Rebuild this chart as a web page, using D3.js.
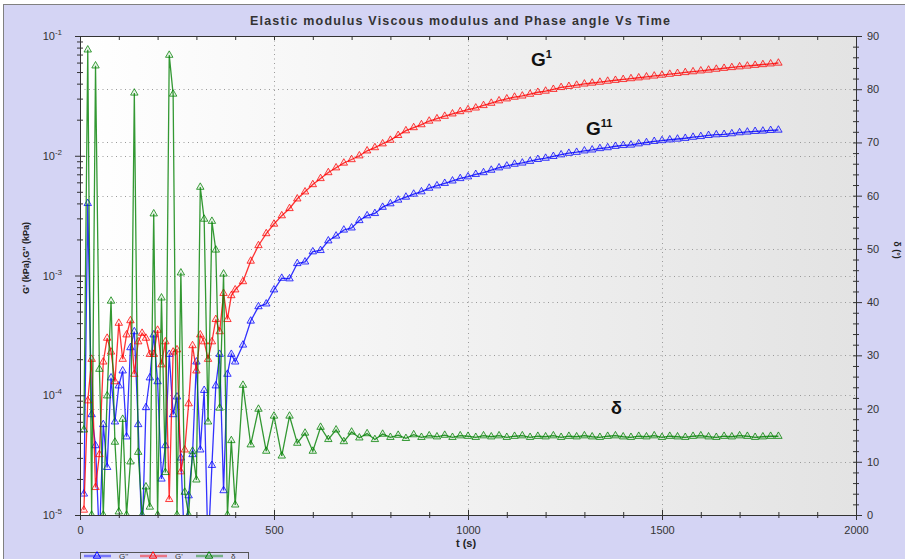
<!DOCTYPE html>
<html>
<head>
<meta charset="utf-8">
<script src="https://cdn.jsdelivr.net/npm/d3@7"></script>
<style>
  body { margin: 0; background: #fff; }
  text { font-family: "Liberation Sans", Arial, sans-serif; }
</style>
</head>
<body>
<svg id="chart" width="905" height="559"></svg>
<script>
// sample times (s)
const time = [10,20,30,40,50,60,70,80,90,100,110,120,130,140,150,160,170,180,190,200,
  210,220,230,240,250,260,270,280,290,300,310,320,330,340,350,360,370,380,390,400,
  420,440,460,480,500,520,540,560,580,600,620,640,660,680,700,720,740,760,780,800,
  820,840,860,880,900,920,940,960,980,1000,1020,1040,1060,1080,1100,1120,1140,1160,1180,1200,
  1220,1240,1260,1280,1300,1320,1340,1360,1380,1400,1420,1440,1460,1480,1500,1520,1540,1560,1580,1600,
  1620,1640,1660,1680,1700,1720,1740,1760,1780,1800];

// G' (kPa) - elastic modulus
const gPrime = [1.1e-5,9.0e-5,2.0e-4,1.7e-5,3.2e-5,1.9e-4,3.0e-4,2.3e-4,1.3e-4,4.0e-4,
  2.0e-4,3.2e-4,4.2e-4,1.5e-4,2.8e-4,3.3e-4,3.0e-4,2.2e-4,2.2e-4,3.5e-4,
  1.8e-4,2.8e-4,1.35e-5,2.3e-4,2.4e-4,2.3e-5,3.5e-5,8.5e-5,2.6e-4,1.6e-4,
  3.2e-4,2.8e-4,2.0e-4,2.8e-4,4.3e-4,3.4e-4,7.1e-4,4.3e-4,6.8e-4,7.6e-4,
  8.9e-4,1.32e-3,1.78e-3,2.24e-3,2.69e-3,3.16e-3,3.63e-3,4.37e-3,5.0e-3,5.75e-3,
  6.46e-3,7.24e-3,7.94e-3,8.7e-3,9.3e-3,1.0e-2,1.10e-2,1.17e-2,1.26e-2,1.35e-2,
  1.48e-2,1.62e-2,1.72e-2,1.82e-2,1.95e-2,2.04e-2,2.14e-2,2.24e-2,2.34e-2,2.43e-2,
  2.51e-2,2.63e-2,2.75e-2,2.88e-2,2.99e-2,3.09e-2,3.16e-2,3.27e-2,3.39e-2,3.47e-2,
  3.59e-2,3.72e-2,3.80e-2,3.89e-2,3.98e-2,4.05e-2,4.12e-2,4.20e-2,4.27e-2,4.34e-2,
  4.41e-2,4.48e-2,4.56e-2,4.64e-2,4.72e-2,4.80e-2,4.88e-2,4.96e-2,5.04e-2,5.12e-2,
  5.20e-2,5.29e-2,5.38e-2,5.46e-2,5.54e-2,5.62e-2,5.70e-2,5.78e-2,5.86e-2,5.95e-2];

// G'' (kPa) - viscous modulus
const gDouble = [1.5e-5,4.0e-3,6.9e-5,3.8e-5,6e-6,5.7e-5,2.5e-5,1.4e-4,6.0e-5,1.2e-4,
  1.6e-4,4.5e-5,2.5e-4,3.4e-4,5.7e-5,6e-6,7.9e-5,1.4e-4,3.2e-4,1.3e-4,
  2.0e-5,3.8e-5,2.2e-4,6.9e-5,9.7e-5,3.0e-5,5e-6,1.45e-5,3.2e-5,1.9e-4,
  3.5e-5,1.1e-4,5e-6,2.6e-5,1.2e-4,2.2e-4,1.6e-5,1.5e-4,2.2e-4,1.9e-4,
  2.63e-4,4.17e-4,5.5e-4,5.8e-4,7.6e-4,9.5e-4,9.4e-4,1.26e-3,1.30e-3,1.58e-3,
  1.62e-3,1.95e-3,2.14e-3,2.40e-3,2.50e-3,2.88e-3,3.16e-3,3.30e-3,3.72e-3,3.98e-3,
  4.27e-3,4.52e-3,4.79e-3,5.01e-3,5.37e-3,5.62e-3,5.89e-3,6.17e-3,6.46e-3,6.68e-3,
  7.0e-3,7.24e-3,7.59e-3,7.94e-3,8.22e-3,8.51e-3,8.71e-3,9.0e-3,9.33e-3,9.55e-3,
  9.89e-3,1.02e-2,1.05e-2,1.07e-2,1.10e-2,1.12e-2,1.15e-2,1.17e-2,1.20e-2,1.22e-2,
  1.23e-2,1.26e-2,1.29e-2,1.32e-2,1.34e-2,1.36e-2,1.38e-2,1.40e-2,1.43e-2,1.45e-2,
  1.48e-2,1.50e-2,1.51e-2,1.53e-2,1.56e-2,1.58e-2,1.60e-2,1.61e-2,1.63e-2,1.64e-2];

// phase angle (deg)
const delta = [16,87.4,0,84.4,27.4,0,22.4,40.2,13.7,0.6,
  18,0,10,79.3,11.8,0,5.3,1.5,56.6,0,
  40.8,8,86.4,79.1,0,45.5,4.3,0,12,6.6,
  61.6,55.6,17.5,55.2,49.8,20.1,45.3,0,14,1.9,
  24.4,13.2,19.9,12.0,18.6,11.1,18.6,13.5,15.4,12.0,
  16.5,14.2,16.0,13.8,15.6,14.5,15.3,14.2,15.2,14.6,
  15.0,14.4,15.1,14.6,14.9,14.7,15.0,14.6,14.9,14.8,
  14.6,14.9,14.7,14.9,14.6,14.8,14.9,14.6,14.8,14.7,
  14.9,14.6,14.8,14.7,14.9,14.7,14.6,14.8,14.9,14.7,
  14.6,14.8,14.7,14.9,14.6,14.8,14.7,14.6,14.8,14.9,
  14.7,14.6,14.8,14.7,14.9,14.8,14.6,14.7,14.8,14.8];

const xTicks = [0, 500, 1000, 1500, 2000];
const leftTicks = [1e-5, 1e-4, 1e-3, 1e-2, 1e-1];
const leftExp = ['-5', '-4', '-3', '-2', '-1'];
const rightTicks = [0, 10, 20, 30, 40, 50, 60, 70, 80, 90];
const legendNames = ["G''", "G'", "\u03b4"];
const colors = ['#0000ff', '#ff0000', '#008000'];

const svg = d3.select('#chart');
const margin = {top: 36, right: 49, bottom: 44, left: 80};
const width = 905 - margin.left - margin.right;
const height = 559 - margin.top - margin.bottom;

const x = d3.scaleLinear().domain([0, 2000]).range([0, width]);
const yL = d3.scaleLog().domain([1e-5, 1e-1]).range([height, 0]);
const yR = d3.scaleLinear().domain([0, 90]).range([height, 0]);

const defs = svg.append('defs');
const grad = defs.append('linearGradient').attr('id', 'bg')
  .attr('x1', '0%').attr('x2', '100%').attr('y1', '0%').attr('y2', '0%');
grad.append('stop').attr('offset', '0%').attr('stop-color', '#ffffff');
grad.append('stop').attr('offset', '100%').attr('stop-color', '#e3e3e3');
defs.append('clipPath').attr('id', 'clip')
  .append('rect').attr('width', width).attr('height', height);

// outer panel
svg.append('rect')
  .attr('x', 3.5).attr('y', 4.5).attr('width', 910).attr('height', 560)
  .attr('fill', '#d4d4f4').attr('stroke', '#808080');

svg.append('text')
  .attr('x', 250).attr('y', 25)
  .attr('textLength', 420).attr('lengthAdjust', 'spacing')
  .attr('font-family', '"DejaVu Sans", Verdana, sans-serif')
  .attr('font-size', 12.5).attr('font-weight', 'bold').attr('fill', '#333')
  .text('Elastic modulus Viscous modulus and Phase angle Vs Time');

const g = svg.append('g')
  .attr('transform', 'translate(' + margin.left + ',' + margin.top + ')');

g.append('rect').attr('width', width).attr('height', height).attr('fill', 'url(#bg)');

// grid
const grid = g.append('g').attr('stroke', '#9a9a9a').attr('stroke-dasharray', '1,3.5');
grid.selectAll('.vg').data(xTicks.slice(1, -1)).enter().append('line')
  .attr('x1', d => x(d) + 0.5).attr('x2', d => x(d) + 0.5)
  .attr('y1', 0).attr('y2', height);
grid.selectAll('.hgl').data(leftTicks.slice(1, -1)).enter().append('line')
  .attr('x1', 0).attr('x2', width)
  .attr('y1', d => Math.round(yL(d)) + 0.5).attr('y2', d => Math.round(yL(d)) + 0.5);
grid.selectAll('.hgr').data(rightTicks.slice(1, -1)).enter().append('line')
  .attr('x1', 0).attr('x2', width)
  .attr('y1', d => Math.round(yR(d)) + 0.5).attr('y2', d => Math.round(yR(d)) + 0.5);

// series
const series = [
  {values: gDouble, y: yL},
  {values: gPrime, y: yL},
  {values: delta, y: yR}
];
const plot = g.append('g').attr('clip-path', 'url(#clip)');
const tri = d3.symbol().type(d3.symbolTriangle).size(24);

series.forEach((s, i) => {
  const pts = time.map((t, j) => ({t: t, v: s.values[j]}));
  const line = d3.line().x(d => x(d.t)).y(d => s.y(d.v));
  plot.append('path')
    .datum(pts)
    .attr('fill', 'none')
    .attr('stroke', colors[i])
    .attr('stroke-opacity', 0.8)
    .attr('stroke-width', 1.3)
    .attr('d', line);
  plot.selectAll('.m' + i)
    .data(pts)
    .enter().append('path')
    .attr('transform', d => 'translate(' + x(d.t) + ',' + s.y(d.v) + ')')
    .attr('d', tri)
    .attr('fill', colors[i])
    .attr('fill-opacity', 0.08)
    .attr('stroke', colors[i])
    .attr('stroke-opacity', 0.75)
    .attr('stroke-width', 1);
});

// axes
function styleAxis(sel) {
  sel.selectAll('path').attr('stroke', '#333');
  sel.selectAll('line').attr('stroke', '#333');
  sel.selectAll('text').attr('fill', '#333').attr('font-size', 11)
    .attr('font-family', '"Liberation Sans", Arial, sans-serif');
}

const minorX = d3.range(0, 2001, 100).filter(v => v % 500 !== 0);

const xAxis = g.append('g')
  .attr('transform', 'translate(0,' + height + ')')
  .call(d3.axisBottom(x).tickValues(xTicks).tickFormat(d3.format('d'))
    .tickSize(5).tickPadding(6).tickSizeOuter(0));
xAxis.selectAll('.tick line').attr('y1', -5);
styleAxis(xAxis);
const xMinor = g.append('g')
  .attr('transform', 'translate(0,' + height + ')')
  .call(d3.axisBottom(x).tickValues(minorX).tickSize(3).tickFormat(''));
xMinor.select('.domain').remove();
xMinor.selectAll('.tick line').attr('y1', -3);
styleAxis(xMinor);

const xTop = g.append('g')
  .call(d3.axisTop(x).tickValues(d3.range(0, 2001, 100)).tickSize(-4).tickFormat('').tickSizeOuter(0));
styleAxis(xTop);

const leftMinor = [];
leftTicks.slice(0, -1).forEach(d => { for (let k = 2; k <= 9; k++) leftMinor.push(k * d); });

const yAxisL = g.append('g')
  .call(d3.axisLeft(yL).tickValues(leftTicks).tickSize(5).tickPadding(13).tickSizeOuter(0));
yAxisL.selectAll('.tick line').attr('x1', 5);
yAxisL.selectAll('.tick text').each(function(d, i) {
  const t = d3.select(this).text(null);
  t.append('tspan').text('10');
  t.append('tspan').attr('dy', -5).attr('font-size', 8).text(leftExp[i]);
});
styleAxis(yAxisL);
const yMinorL = g.append('g')
  .call(d3.axisLeft(yL).tickValues(leftMinor).tickSize(3).tickFormat(''));
yMinorL.select('.domain').remove();
yMinorL.selectAll('.tick line').attr('x1', 3);
styleAxis(yMinorL);

const rightMinor = d3.range(0, 91, 2).filter(v => v % 10 !== 0);
const yAxisR = g.append('g')
  .attr('transform', 'translate(' + width + ',0)')
  .call(d3.axisRight(yR).tickValues(rightTicks).tickSize(6).tickPadding(5).tickSizeOuter(0));
yAxisR.selectAll('.tick line').attr('x1', -3);
styleAxis(yAxisR);
const yMinorR = g.append('g')
  .attr('transform', 'translate(' + width + ',0)')
  .call(d3.axisRight(yR).tickValues(rightMinor).tickSize(3).tickFormat(''));
yMinorR.select('.domain').remove();
yMinorR.selectAll('.tick line').attr('x1', -3);
styleAxis(yMinorR);

// axis titles
svg.append('text')
  .attr('x', 466).attr('y', 547)
  .attr('text-anchor', 'middle').attr('font-size', 11).attr('font-weight', 'bold').attr('fill', '#222')
  .text('t (s)');
svg.append('text')
  .attr('transform', 'translate(29,258) rotate(-90)')
  .attr('text-anchor', 'middle').attr('font-size', 9).attr('font-weight', 'bold').attr('fill', '#222')
  .text("G' (kPa),G'' (kPa)");
svg.append('text')
  .attr('transform', 'translate(894,250) rotate(90)')
  .attr('text-anchor', 'middle').attr('font-size', 9).attr('font-weight', 'bold').attr('fill', '#222')
  .text('\u03b4 (\u00b0)');

// curve annotations
const serif = '"Liberation Serif", "Times New Roman", serif';
function annot(px, py, main, sup, size) {
  const t = svg.append('text').attr('x', px).attr('y', py)
    .attr('font-family', serif).attr('font-weight', 'bold').attr('font-size', size).attr('fill', '#111');
  t.append('tspan').text(main);
  if (sup) t.append('tspan').attr('dy', -8).attr('font-size', 11).text(sup);
}
annot(531, 66, 'G', '1', 19);
annot(586, 135, 'G', '11', 19);
annot(611, 414, '\u03b4', null, 18);

// legend (sits at the bottom edge of the window)
const legend = svg.append('g').attr('transform', 'translate(80,552)');
legend.append('rect').attr('x', 0.5).attr('y', 0.5).attr('width', 168).attr('height', 22)
  .attr('fill', '#d8d8f4').attr('stroke', '#555');
legendNames.forEach((name, i) => {
  const item = legend.append('g').attr('transform', 'translate(' + (4 + i * 56) + ',0)');
  item.append('line').attr('x1', 0).attr('x2', 27).attr('y1', 4).attr('y2', 4)
    .attr('stroke', colors[i]).attr('stroke-opacity', 0.45).attr('stroke-width', 2.5);
  item.append('path').attr('transform', 'translate(13,4)').attr('d', tri)
    .attr('fill', 'none').attr('stroke', colors[i]);
  item.append('text').attr('x', 35).attr('y', 6.5).attr('font-size', 8).attr('fill', '#333').text(name);
});
</script>
</body>
</html>
